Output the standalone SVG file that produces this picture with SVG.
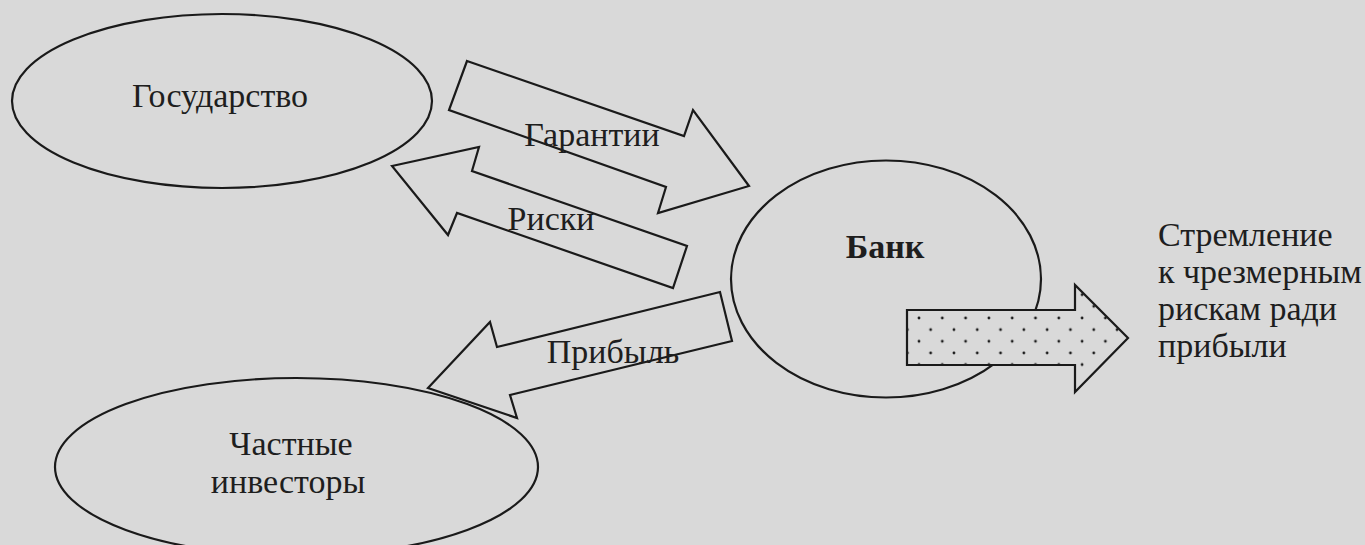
<svg xmlns="http://www.w3.org/2000/svg" width="1365" height="545" viewBox="0 0 1365 545">
  <defs>
    <style>
      .node { fill: none; stroke: #1a1a1a; stroke-width: 2.2; }
      .arrow { fill: none; stroke: #1a1a1a; stroke-width: 2.2; stroke-linejoin: miter; }
      .dotted { fill: url(#dots); stroke: #1a1a1a; stroke-width: 2.2; stroke-linejoin: miter; }
      .lbl { font-family: "Liberation Serif", "Times New Roman", serif; font-size: 34px; fill: #1e1e1e; }
      .bold { font-weight: bold; }
    </style>
    <pattern id="dots" patternUnits="userSpaceOnUse" x="919" y="318" width="23.3" height="23.3">
      <rect x="0" y="0" width="23.3" height="23.3" fill="#d9d9d9"/>
      <circle cx="0" cy="0" r="1.4" fill="#1a1a1a"/>
      <circle cx="23.3" cy="0" r="1.4" fill="#1a1a1a"/>
      <circle cx="0" cy="23.3" r="1.4" fill="#1a1a1a"/>
      <circle cx="23.3" cy="23.3" r="1.4" fill="#1a1a1a"/>
      <circle cx="11.65" cy="11.65" r="1.4" fill="#1a1a1a"/>
    </pattern>
  </defs>
  <rect x="0" y="0" width="1365" height="545" fill="#d9d9d9"/>

  <g id="state">
    <ellipse class="node" cx="222" cy="101" rx="210" ry="87"/>
    <text class="lbl" x="220" y="107" text-anchor="middle">Государство</text>
  </g>

  <g id="investors">
    <ellipse class="node" cx="296.5" cy="467" rx="241.5" ry="89"/>
    <text class="lbl" x="291" y="455" text-anchor="middle">Частные</text>
    <text class="lbl" x="288" y="493" text-anchor="middle">инвесторы</text>
  </g>

  <g id="bank">
    <ellipse class="node" cx="886" cy="279" rx="155" ry="118.5"/>
    <text class="lbl bold" x="885" y="258" text-anchor="middle">Банк</text>
  </g>

  <g id="connectors">
    <g id="guarantees">
      <polygon class="arrow" points="467,61 684,136 693,110 749,186 658,213 666,187 449,110"/>
      <text class="lbl" x="592" y="146" text-anchor="middle">Гарантии</text>
    </g>
    <g id="risks">
      <polygon class="arrow" points="392,166 479,147 472,171 687,246 673,288 457,213 448,235"/>
      <text class="lbl" x="551" y="230" text-anchor="middle">Риски</text>
    </g>
    <g id="profit">
      <polygon class="arrow" points="428,388 490,322 497,347 720,292 732,341 510,395 517,418"/>
      <text class="lbl" x="613" y="363" text-anchor="middle">Прибыль</text>
    </g>
    <g id="striving">
      <polygon class="dotted" points="907,310 1075,310 1075,285 1128,338 1075,392 1075,365 907,365"/>
    </g>
  </g>

  <g id="striving-label">
    <text class="lbl" x="1158" y="246">Стремление</text>
    <text class="lbl" x="1158" y="283">к чрезмерным</text>
    <text class="lbl" x="1158" y="320">рискам ради</text>
    <text class="lbl" x="1158" y="357">прибыли</text>
  </g>
</svg>
